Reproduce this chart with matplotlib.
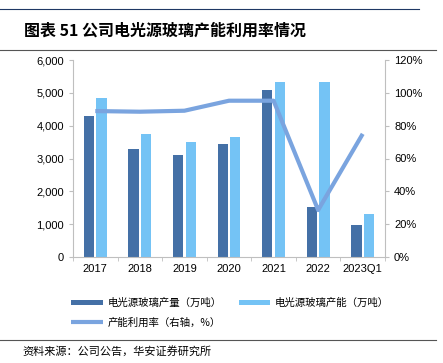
import numpy as np
import matplotlib
matplotlib.use("Agg")
import matplotlib.pyplot as plt
from matplotlib.ticker import FuncFormatter

plt.rcParams['font.family'] = ['Liberation Sans', 'Noto Sans CJK SC', 'DejaVu Sans']

# data
years = ["2017", "2018", "2019", "2020", "2021", "2022", "2023Q1"]
output = [4300, 3300, 3100, 3450, 5080, 1520, 980]      # 产量（万吨）
capacity = [4850, 3750, 3500, 3650, 5330, 5330, 1310]   # 产能（万吨）
util = [88.9, 88.5, 89.1, 95.2, 95.2, 28.6, 75.0]       # 利用率 %

c_dark = "#4470A6"
c_light = "#74C3F5"
c_line = "#7AA4DF"
c_axis = "#BFBFBF"
cjk = ['Noto Sans CJK SC', 'DejaVu Sans']

fig = plt.figure(figsize=(4.43, 3.63), dpi=100)
ax = fig.add_axes([73/443, 1-257/363, 312/443, 197/363])
ax2 = ax.twinx()

x = np.arange(len(years))
w = 0.23
ax.bar(x - 0.14, output, width=w, color=c_dark, label="电光源玻璃产量（万吨）", zorder=2)
ax.bar(x + 0.14, capacity, width=w, color=c_light, label="电光源玻璃产能（万吨）", zorder=2)
ax2.plot(x, util, color=c_line, lw=3, label="产能利用率（右轴，%）", solid_capstyle='butt')

ax.set_xlim(-0.5, len(years) - 0.5)
ax.set_ylim(0, 6000)
ax.set_yticks(range(0, 6001, 1000))
ax.yaxis.set_major_formatter(FuncFormatter(lambda v, p: f"{int(v):,}"))
ax2.set_ylim(0, 120)
ax2.set_yticks(range(0, 121, 20))
ax2.yaxis.set_major_formatter(FuncFormatter(lambda v, p: f"{int(v)}%"))

ax.set_xticks(x)
ax.set_xticklabels(years)
ax.set_xticks(np.arange(-0.5, len(years), 1), minor=True)
ax.tick_params(axis='x', which='major', length=0, labelsize=8, pad=5)
ax.tick_params(axis='x', which='minor', length=3, color=c_axis)
ax.tick_params(axis='y', length=3, color=c_axis, labelsize=8)
ax2.tick_params(axis='y', length=3, color=c_axis, labelsize=8)

for a in (ax, ax2):
    a.spines['top'].set_visible(False)
    for s in ('left', 'right', 'bottom'):
        a.spines[s].set_color(c_axis)
ax.spines['right'].set_visible(False)
ax2.spines['left'].set_visible(False)
ax2.spines['bottom'].set_visible(False)

# legend: two bars on the first row, line on the second
h1, l1 = ax.get_legend_handles_labels()
h2, l2 = ax2.get_legend_handles_labels()
handles = [h1[0], h2[0], h1[1]]
labels = [l1[0], l2[0], l1[1]]
leg = fig.legend(handles, labels, ncol=2, loc='upper left',
                 bbox_to_anchor=(0.14, 0.205), frameon=False,
                 prop={'family': cjk, 'size': 7.5},
                 handlelength=3.0, handleheight=0.45, columnspacing=1.6,
                 labelspacing=0.9, handletextpad=0.5)

# title and frame lines
fig.text(0.055, 0.915, "图表 51 公司电光源玻璃产能利用率情况", fontsize=11.5,
         fontweight='bold', family=cjk, va='center')
fig.add_artist(plt.Line2D([0, 0.945], [0.975, 0.975], color="#1F3864", lw=0.8))
fig.add_artist(plt.Line2D([0, 0.985], [0.862, 0.862], color="#555555", lw=0.8))
fig.add_artist(plt.Line2D([0, 0.985], [0.063, 0.063], color="#555555", lw=0.8))
fig.text(0.05, 0.032, "资料来源：公司公告，华安证券研究所", fontsize=8,
         family=cjk, va='center')

fig.savefig("out.png", dpi=100)
